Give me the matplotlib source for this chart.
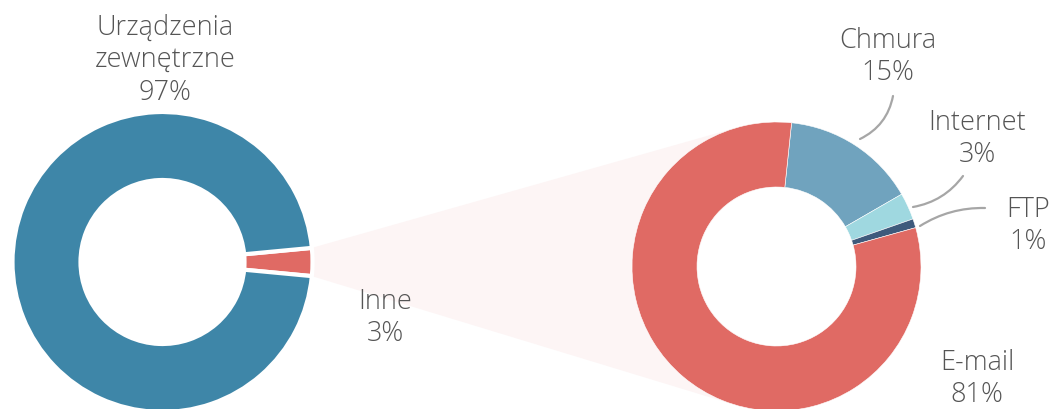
import matplotlib
matplotlib.use("Agg")
import matplotlib.pyplot as plt
import numpy as np
from matplotlib.patches import Polygon, Circle

# ---- data ----
outer_labels = ["Inne", "Urządzenia\nzewnętrzne"]
outer_values = [3, 97]
inner_labels = ["Chmura", "Internet", "FTP", "E-mail"]
inner_values = [15, 3, 1, 81]

outer_colors = ["#E06A64", "#3E86A8"]
inner_colors = ["#70A3BE", "#9FD8E0", "#3E5A7C", "#E06A64"]
text_color = "#555555"

plt.rcParams['font.family'] = ['Open Sans', 'DejaVu Sans']

W, H = 1053, 410
fig = plt.figure(figsize=(W / 100, H / 100), dpi=100)
ax = fig.add_axes([0, 0, 1, 1])

# geometry (pixel-like data coordinates, y up)
c1 = (162.5, 147.0); r1 = 150.0; w1 = 68.0
c2 = (776.5, 142.5); r2 = 144.5; w2 = 65.0

# left donut
half = outer_values[0] / sum(outer_values) * 360 / 2
ax.pie(outer_values, colors=outer_colors, startangle=-half, radius=r1, center=c1,
       wedgeprops=dict(width=w1, edgecolor='white', linewidth=3), frame=True)

# connecting fan (tangent lines from the small slice to the right donut)
a = np.deg2rad(half)
p_top = (c1[0] + r1 * np.cos(a), c1[1] + r1 * np.sin(a))
p_bot = (c1[0] + r1 * np.cos(a), c1[1] - r1 * np.sin(a))

def tangent(p, sign):
    dx, dy = c2[0] - p[0], c2[1] - p[1]
    d = np.hypot(dx, dy)
    base = np.arctan2(dy, dx)
    off = np.arcsin(r2 / d)
    ang = base + sign * off
    L = np.sqrt(d ** 2 - r2 ** 2)
    return (p[0] + L * np.cos(ang), p[1] + L * np.sin(ang))

t_top = tangent(p_top, 1)
t_bot = tangent(p_bot, -1)
ax.add_patch(Polygon([p_top, t_top, c2, t_bot, p_bot], closed=True,
                     facecolor='#FDF5F5', edgecolor='none', zorder=0))

# right donut
ax.pie(inner_values, colors=inner_colors, startangle=84, counterclock=False,
       radius=r2, center=c2,
       wedgeprops=dict(width=w2, edgecolor='white', linewidth=0.4), frame=True)
ax.add_patch(Circle(c2, r2 - w2 - 0.5, facecolor='white', edgecolor='none', zorder=5))

ax.set_xlim(0, W)
ax.set_ylim(0, H)
ax.set_aspect('equal')
ax.axis('off')

fs = 19.5
kw = dict(ha='center', va='center', color=text_color, fontsize=fs,
          linespacing=1.22, fontweight='light', zorder=10)

def pct(v):
    return f"{v}%"

ax.text(165, 350, f"{outer_labels[1]}\n{pct(outer_values[1])}", **kw)
ax.text(385, 92, f"{outer_labels[0]}\n{pct(outer_values[0])}", **kw)

label_pos = [(888, 353), (977, 271), (1028, 184), (977, 31)]
for lab, v, (x, y) in zip(inner_labels, inner_values, label_pos):
    ax.text(x, y, f"{lab}\n{pct(v)}", **kw)

# leader lines (image coords converted to y-up)
lc = "#A6A6A6"
leaders = [((893, H - 97), (860, H - 140), -0.25),
           ((963, H - 177), (913, H - 208), -0.2),
           ((985, H - 209), (920, H - 227), 0.15)]
for (x0, y0), (x1, y1), rad in leaders:
    ax.annotate("", xy=(x1, y1), xytext=(x0, y0),
                arrowprops=dict(arrowstyle='-', color=lc, lw=1.6,
                                connectionstyle=f"arc3,rad={rad}",
                                shrinkA=0, shrinkB=0), zorder=10)

fig.savefig("out.png", dpi=100)
